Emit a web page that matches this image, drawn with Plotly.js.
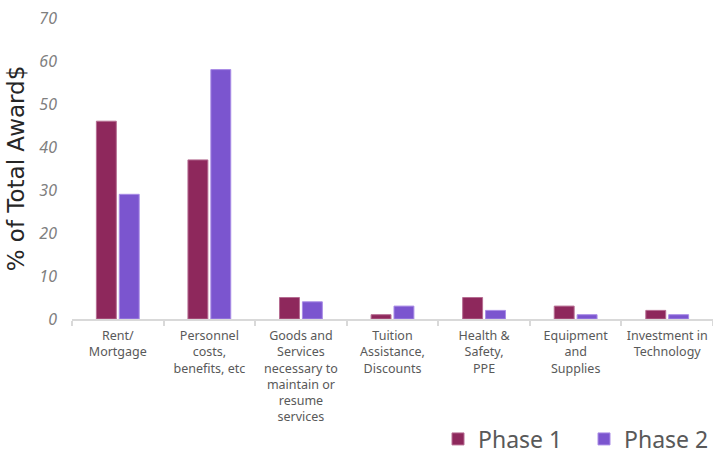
<!DOCTYPE html>
<html><head><meta charset="utf-8">
<script src="https://cdn.plot.ly/plotly-3.0.1.min.js"></script>
<style>body{margin:0;background:#fff}#c{width:713px;height:454px}</style>
</head><body><div id="c"></div>
<script>
const categories = ["Rent/<br>Mortgage","Personnel<br>costs,<br>benefits, etc","Goods and<br>Services<br>necessary to<br>maintain or<br>resume<br>services","Tuition<br>Assistance,<br>Discounts","Health &<br>Safety,<br>PPE","Equipment<br>and<br>Supplies","Investment in<br>Technology"];
const phase1 = [46, 37, 5, 1, 5, 3, 2];
const phase2 = [29, 58, 4, 3, 2, 1, 1];
const yTicks = [0,10,20,30,40,50,60,70];

const fontFam = "'Noto Sans', 'Open Sans', sans-serif";
const data = [
  {type:'bar', name:'Phase 1', x:categories, y:phase1, marker:{color:'#8E285C', line:{color:'#B66D92', width:1}}},
  {type:'bar', name:'Phase 2', x:categories, y:phase2, marker:{color:'#7B55CF', line:{color:'#A98CE6', width:1}}}
];
const layout = {
  width:713, height:454,
  margin:{l:72, r:0, t:18, b:135, autoexpand:false},
  paper_bgcolor:'#fff', plot_bgcolor:'#fff',
  barmode:'group', bargap:0.5, bargroupgap:0.13,
  font:{family:fontFam, color:'#595959'},
  xaxis:{type:'category', showgrid:false, showline:true, linecolor:'#D9D9D9', linewidth:2,
    ticks:'outside', tickson:'boundaries', tickcolor:'#D9D9D9', ticklen:5, tickwidth:2,
    ticklabelstandoff:4,
    tickfont:{size:12.5, color:'#595959', family:fontFam}, tickangle:0, zeroline:false, automargin:false},
  yaxis:{range:[0,70], tickvals:yTicks, showgrid:false, zeroline:false, showline:false,
    ticks:'', ticklabelstandoff:14, automargin:false,
    tickfont:{size:16, color:'#7F7F7F', family:fontFam, style:'italic'},
    title:{text:'% of Total Award$', font:{size:23, color:'#262626', family:"'DejaVu Sans', sans-serif"}, standoff:8}},
  legend:{orientation:'h', x:0.571, xanchor:'left', y:-0.47, yanchor:'bottom',
    font:{size:23, color:'#595959', family:fontFam}, entrywidth:101, entrywidthmode:'pixels',
    traceorder:'normal', itemclick:false},
  showlegend:true
};
Plotly.newPlot('c', data, layout, {displayModeBar:false, staticPlot:true});
</script></body></html>
